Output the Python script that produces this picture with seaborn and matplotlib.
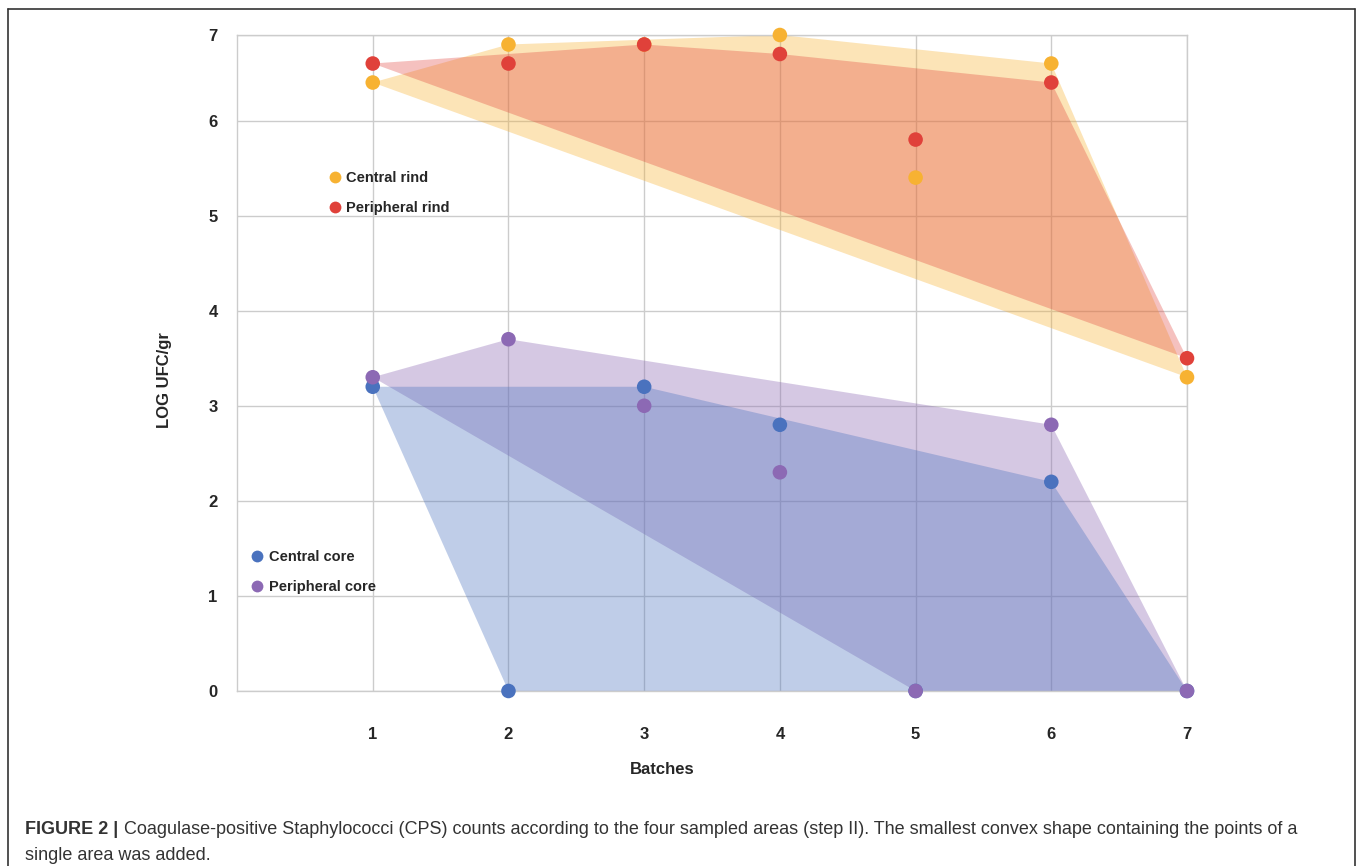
import numpy as np
import pandas as pd
import matplotlib
matplotlib.use("Agg")
import matplotlib.pyplot as plt
from matplotlib.lines import Line2D
from matplotlib.patches import Polygon
import seaborn as sns

sns.set_style("white")
plt.rcParams['font.family'] = ['Liberation Sans', 'DejaVu Sans']

# data
batches = [1, 2, 3, 4, 5, 6, 7]
central_rind = [6.4, 6.8, 6.8, 6.9, 5.4, 6.6, 3.3]
peripheral_rind = [6.6, 6.6, 6.8, 6.7, 5.8, 6.4, 3.5]
central_core = [3.2, 0, 3.2, 2.8, 0, 2.2, 0]
peripheral_core = [3.3, 3.7, 3.0, 2.3, 0, 2.8, 0]

areas = ["Central rind", "Peripheral rind", "Central core", "Peripheral core"]
colors = {"Central rind": "#F7B232", "Peripheral rind": "#E0413A",
          "Central core": "#4A72BE", "Peripheral core": "#8C69B4"}
fill_alpha = {"Central rind": 0.35, "Peripheral rind": 0.32,
              "Central core": 0.35, "Peripheral core": 0.36}

df = pd.DataFrame({
    "Batch": batches * 4,
    "Value": central_rind + peripheral_rind + central_core + peripheral_core,
    "Area": [a for a in areas for _ in batches],
})


def convex_hull(pts):
    # monotone chain
    pts = sorted(set(pts))
    def cross(o, a, b):
        return (a[0] - o[0]) * (b[1] - o[1]) - (a[1] - o[1]) * (b[0] - o[0])
    lower = []
    for p in pts:
        while len(lower) >= 2 and cross(lower[-2], lower[-1], p) <= 0:
            lower.pop()
        lower.append(p)
    upper = []
    for p in reversed(pts):
        while len(upper) >= 2 and cross(upper[-2], upper[-1], p) <= 0:
            upper.pop()
        upper.append(p)
    return lower[:-1] + upper[:-1]


fig = plt.figure(figsize=(13.6, 8.66), dpi=100)
ax = fig.add_axes([0.1743, 0.2021, 0.6985, 0.7575])

# hulls, drawn in this order so the overlaps look like the original
for area in ["Central rind", "Peripheral rind", "Peripheral core", "Central core"]:
    sub = df[df["Area"] == area]
    hull = convex_hull(list(zip(sub["Batch"], sub["Value"])))
    ax.add_patch(Polygon(hull, closed=True, facecolor=colors[area],
                         alpha=fill_alpha[area], edgecolor="none", zorder=2))

sns.scatterplot(data=df, x="Batch", y="Value", hue="Area", palette=colors,
                hue_order=["Central core", "Peripheral core", "Central rind", "Peripheral rind"],
                s=110, edgecolor="none", legend=False, ax=ax, zorder=4, clip_on=False)

ax.set_xlim(0, 7)
ax.set_ylim(0, 6.9)
ax.set_xticks(batches)
ax.set_yticks([0, 1, 2, 3, 4, 5, 6, 6.9])
ax.set_yticklabels(["0", "1", "2", "3", "4", "5", "6", "7"])
ax.grid(True, color="#CCCCCC", linewidth=1.0, zorder=1)
ax.set_axisbelow(True)
for s in ax.spines.values():
    s.set_color("#CCCCCC")
    s.set_linewidth(1.0)
ax.tick_params(axis="both", length=0, labelsize=12)
ax.tick_params(axis="x", pad=26)
ax.tick_params(axis="y", pad=14)
for lab in ax.get_xticklabels() + ax.get_yticklabels():
    lab.set_fontweight("bold")

ax.set_xlabel("Batches", fontsize=12, fontweight="bold")
ax.set_ylabel("LOG UFC/gr", fontsize=12, fontweight="bold")
ax.xaxis.set_label_coords(0.448, -0.108)
ax.yaxis.set_label_coords(-0.068, 0.474)


def handles(names):
    return [Line2D([0], [0], marker="o", linestyle="none", markersize=8.5,
                   markerfacecolor=colors[n], markeredgecolor="none", label=n)
            for n in names]


leg1 = fig.legend(handles=handles(["Central rind", "Peripheral rind"]),
                  loc="upper left", bbox_to_anchor=(0.231, 0.818), frameon=False,
                  prop={"weight": "bold", "size": 10.5}, handletextpad=0.3,
                  labelspacing=1.1, handlelength=1.0)
leg2 = fig.legend(handles=handles(["Central core", "Peripheral core"]),
                  loc="upper left", bbox_to_anchor=(0.174, 0.380), frameon=False,
                  prop={"weight": "bold", "size": 10.5}, handletextpad=0.3,
                  labelspacing=1.1, handlelength=1.0)

# figure frame (open at the bottom)
for xs, ys in [([0.006, 0.996], [0.990, 0.990]), ([0.006, 0.006], [0.990, -0.01]),
               ([0.996, 0.996], [0.990, -0.01])]:
    fig.add_artist(Line2D(xs, ys, color="#333333", linewidth=1.2,
                          transform=fig.transFigure))

# caption
fig.text(25 / 1360, 1 - 829 / 866, "FIGURE 2 |", fontsize=13, fontweight="bold",
         color="#333333", ha="left", va="center")
fig.text(124 / 1360, 1 - 829 / 866,
         "Coagulase-positive Staphylococci (CPS) counts according to the four sampled areas (step II). "
         "The smallest convex shape containing the points of a",
         fontsize=13, color="#333333", ha="left", va="center")
fig.text(25 / 1360, 1 - 856 / 866, "single area was added.", fontsize=13,
         color="#333333", ha="left", va="center")

fig.savefig("out.png", dpi=100)
